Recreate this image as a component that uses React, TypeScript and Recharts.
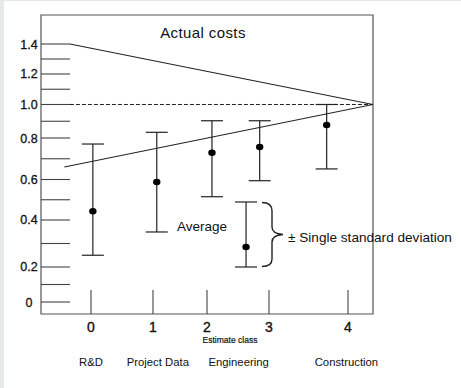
import React from 'react'
import {
  ComposedChart, Scatter, Line, XAxis, YAxis, ErrorBar, ReferenceArea,
} from 'recharts'

// estimate classes and the labels printed under the axis
const classTicks = [0, 1, 2, 3, 4]
const classNames = ['R&D', 'Project Data', 'Engineering', 'Construction']
const classNameX = [0, 1.09, 2.51, 3.98]

// actual / estimated cost ratio per class
const pointX  = [0.03, 1.07, 2.08, 2.85, 3.73]
const average = [0.443, 0.588, 0.729, 0.757, 0.878]
const low     = [0.25, 0.349, 0.515, 0.594, 0.651]
const high    = [0.771, 0.834, 0.903, 0.903, 1.0]

// legend sample (Average / ± single standard deviation)
const legendX = 2.63
const legendAvg = 0.285
const legendLow = 0.2
const legendHigh = 0.489

// envelope lines converging on 1.0
const upperEnvelope = [{ x: -0.34, y: 1.4 }, { x: 4.316, y: 1.0 }]
const lowerEnvelope = [{ x: -0.43, y: 0.66 }, { x: 4.316, y: 1.0 }]
const actualLine    = [{ x: -0.34, y: 1.0 }, { x: 4.316, y: 1.0 }]

const yMajor = [0, 0.2, 0.4, 0.6, 0.8, 1.0, 1.2, 1.4]
const yMajorLabels = ['0', '0.2', '0.4', '0.6', '0.8', '1.0', '1.2', '1.4']
const yMinor = [0.1, 0.3, 0.5, 0.7, 0.9, 1.1, 1.3]

// the printed figure has unevenly spaced axes; piecewise-linear scale
const xKnots = [-0.806, 0, 1, 2, 3, 4, 4.316]
const xFracs = [0, 0.1506, 0.3373, 0.5, 0.6867, 0.9247, 1]
const yKnots = [-0.07, 0, 0.2, 0.4, 0.6, 0.8, 1.0, 1.2, 1.4, 1.6]
const yFracs = [0, 0.0401, 0.1572, 0.3144, 0.4498, 0.5886, 0.7007, 0.8027, 0.903, 1]

function piecewiseScale(vals: number[], fracs: number[]): any {
  let dom = [vals[0], vals[vals.length - 1]]
  let rng = [0, 1]
  const s: any = (v: number) => {
    let i = 0
    while (i < vals.length - 2 && v > vals[i + 1]) i++
    const t = (v - vals[i]) / (vals[i + 1] - vals[i])
    const f = fracs[i] + t * (fracs[i + 1] - fracs[i])
    return rng[0] + f * (rng[1] - rng[0])
  }
  s.domain = (d?: number[]) => {
    if (d === undefined) return dom.slice()
    dom = d.slice()
    return s
  }
  s.range = (r?: number[]) => {
    if (r === undefined) return rng.slice()
    rng = r.slice()
    return s
  }
  s.copy = () => piecewiseScale(vals, fracs).domain(dom).range(rng)
  s.ticks = () => vals.slice(1, -1)
  s.tickFormat = () => (v: number) => String(v)
  return s
}

const xScale = piecewiseScale(xKnots, xFracs)
const yScale = piecewiseScale(yKnots, yFracs)

const points = pointX.map((x, i) => ({
  x, y: average[i], err: [average[i] - low[i], high[i] - average[i]],
}))
points.push({ x: legendX, y: legendAvg, err: [legendAvg - legendLow, legendHigh - legendAvg] })

const yTicks = [...yMajor, ...yMinor].sort((a, b) => a - b)

const INK = '#222'
const FONT = '"Liberation Sans", Arial, Helvetica, sans-serif'

function YTick({ x, y, payload }: any) {
  const idx = yMajor.findIndex(v => Math.abs(v - payload.value) < 1e-6)
  return (
    <g>
      <line x1={x} y1={y} x2={x + 29} y2={y} stroke="#444" strokeWidth={1.1} />
      {idx >= 0 && (
        <text x={x - 12} y={y + 4.5} textAnchor="middle" fontSize={12.5} fill="#111"
          stroke="#111" strokeWidth={0.3} fontFamily={FONT}>
          {yMajorLabels[idx]}
        </text>
      )}
    </g>
  )
}

function XTick({ x, y, payload }: any) {
  return (
    <g>
      <line x1={x} y1={y - 24} x2={x} y2={y} stroke="#444" strokeWidth={1.1} />
      <text x={x} y={y + 18} textAnchor="middle" fontSize={14} fill="#111"
        stroke="#111" strokeWidth={0.35} fontFamily={FONT}>
        {payload.value}
      </text>
    </g>
  )
}

function NameTick({ x, y, payload }: any) {
  const idx = classNameX.findIndex(v => Math.abs(v - payload.value) < 1e-6)
  return (
    <text x={x} y={y + 21.5} textAnchor="middle" fontSize={11.3} fill="#111" fontFamily={FONT}>
      {classNames[idx]}
    </text>
  )
}

function Dot({ cx, cy }: any) {
  return <ellipse cx={cx} cy={cy} rx={3.7} ry={3.2} fill="#000" />
}

export default function App() {
  return (
    <div style={{ position: 'fixed', left: 0, top: 0, width: 461, height: 388, background: '#e6e9ec' }}>
      <div style={{ position: 'absolute', left: 4, top: 1, right: 0, bottom: 0, background: '#fff' }} />
      <div style={{ position: 'absolute', left: 0, top: 0 }}>
        <ComposedChart width={461} height={388} margin={{ top: 15, right: 88, bottom: 0, left: 0 }}>
          <XAxis
            xAxisId={0}
            dataKey="x"
            type="number"
            scale={xScale}
            domain={[xKnots[0], xKnots[xKnots.length - 1]]}
            ticks={classTicks}
            interval={0}
            tick={<XTick />}
            tickLine={false}
            tickSize={0}
            tickMargin={0}
            axisLine={false}
            height={30}
            allowDataOverflow
          />
          <XAxis
            xAxisId={1}
            type="number"
            scale={xScale}
            domain={[xKnots[0], xKnots[xKnots.length - 1]]}
            ticks={classNameX}
            interval={0}
            tick={<NameTick />}
            tickLine={false}
            tickSize={0}
            tickMargin={0}
            axisLine={false}
            height={44}
            allowDataOverflow
          />
          <YAxis
            dataKey="y"
            type="number"
            scale={yScale}
            domain={[yKnots[0], yKnots[yKnots.length - 1]]}
            ticks={yTicks}
            interval={0}
            tick={<YTick />}
            tickLine={false}
            tickSize={0}
            tickMargin={0}
            axisLine={false}
            width={41}
            allowDataOverflow
          />
          <ReferenceArea
            x1={xKnots[0]}
            x2={xKnots[xKnots.length - 1]}
            y1={yKnots[0]}
            y2={yKnots[yKnots.length - 1]}
            fill="none"
            stroke="#555"
            strokeWidth={1.2}
            ifOverflow="visible"
          />
          <Line data={upperEnvelope} dataKey="y" stroke={INK} strokeWidth={1.1} dot={false} isAnimationActive={false} />
          <Line data={lowerEnvelope} dataKey="y" stroke={INK} strokeWidth={1.1} dot={false} isAnimationActive={false} />
          <Line
            data={actualLine}
            dataKey="y"
            stroke={INK}
            strokeWidth={1}
            strokeDasharray="4 2"
            dot={false}
            isAnimationActive={false}
          />
          <Scatter data={points} dataKey="y" shape={<Dot />} isAnimationActive={false}>
            <ErrorBar dataKey="err" direction="y" width={11} stroke={INK} strokeWidth={1.2} isAnimationActive={false} />
          </Scatter>
        </ComposedChart>
      </div>
      <svg width={461} height={388} style={{ position: 'absolute', left: 0, top: 0, pointerEvents: 'none' }}>
        <g fontFamily={FONT} fill="#111">
          <text x={203} y={38} textAnchor="middle" fontSize={15} letterSpacing={0.4}>Actual costs</text>
          <text x={177} y={231} fontSize={13.5}>Average</text>
          <text x={288} y={241.5} fontSize={13.6}>± Single standard deviation</text>
          <text x={230} y={343} textAnchor="middle" fontSize={8.5} stroke="#111" strokeWidth={0.2}>Estimate class</text>
        </g>
        <path
          d="M262 202.5 C269 202.5 272 205 272 211 L272 227 C272 231 276 234 283 234.5 C276 235 272 238 272 242 L272 259 C272 264 269 266.5 262 266.5"
          fill="none"
          stroke="#222"
          strokeWidth={1.4}
        />
      </svg>
    </div>
  )
}
